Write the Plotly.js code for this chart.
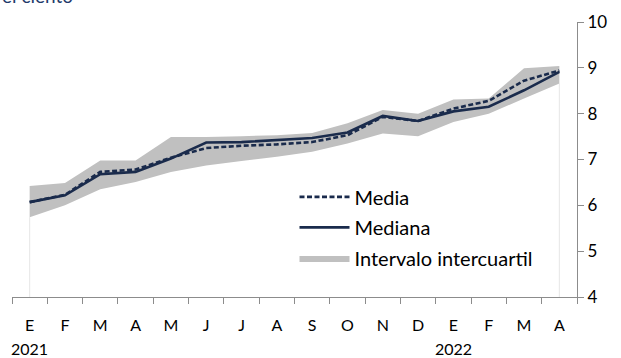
<!DOCTYPE html>
<html>
<head>
<meta charset="utf-8">
<script src="https://cdn.plot.ly/plotly-3.0.1.min.js"></script>
<style>html,body{margin:0;padding:0;background:#fff;}#chart{width:621px;height:358px;}</style>
</head>
<body>
<div id="chart"></div>
<script>
const cats = ['E-2021','F-2021','M-2021','A-2021','M2-2021','J-2021','J2-2021','A2-2021','S-2021','O-2021','N-2021','D-2021','E-2022','F-2022','M-2022','A-2022'];
const monthLabels = ['E','F','M','A','M','J','J','A','S','O','N','D','E','F','M','A'];
const media   = [6.07, 6.23, 6.73, 6.78, 7.04, 7.25, 7.30, 7.33, 7.38, 7.53, 7.93, 7.84, 8.11, 8.28, 8.72, 8.94];
const mediana = [6.07, 6.22, 6.68, 6.73, 7.02, 7.37, 7.38, 7.42, 7.47, 7.59, 7.95, 7.84, 8.05, 8.15, 8.51, 8.91];
const q1      = [5.74, 6.00, 6.35, 6.51, 6.73, 6.87, 6.97, 7.06, 7.17, 7.35, 7.57, 7.51, 7.82, 8.00, 8.33, 8.66];
const q3      = [6.42, 6.49, 6.98, 6.98, 7.49, 7.49, 7.51, 7.53, 7.58, 7.79, 8.08, 8.00, 8.31, 8.33, 8.99, 9.04];
const years = ['2021', '2022'];
const yearAt = [0, 12];
const yTicks = [4, 5, 6, 7, 8, 9, 10];

const navy = '#1a2b4c';
const font = 'Lato, "Open Sans", sans-serif';

const traces = [
  {x: cats, y: q1, type: 'scatter', mode: 'lines', line: {width: 0, color: 'rgba(0,0,0,0)'}, showlegend: false, hoverinfo: 'skip', legendgroup: 'c'},
  {x: cats, y: q3, type: 'scatter', mode: 'lines', fill: 'tonexty', fillcolor: '#c0c0c0', line: {width: 0, color: '#c0c0c0'},
   name: 'Intervalo intercuartil', legendgroup: 'c', legendrank: 3},
  {x: cats, y: mediana, type: 'scatter', mode: 'lines', line: {color: navy, width: 2.6},
   name: 'Mediana', legendgroup: 'b', legendrank: 2},
  {x: cats, y: media, type: 'scatter', mode: 'lines', line: {color: navy, width: 2.6, dash: '5px,2.5px'},
   name: 'Media', legendgroup: 'a', legendrank: 1}
];

const annotations = years.map((t, i) => ({
  x: cats[yearAt[i]], xref: 'x', y: 0, yref: 'paper', yanchor: 'top', yshift: -40,
  text: t, showarrow: false, font: {family: font, size: 16, color: '#000'}
}));
annotations.push({
  x: 0, xref: 'paper', xanchor: 'left', xshift: -12, y: 1, yref: 'paper', yanchor: 'bottom', yshift: 13,
  text: 'el ciento', showarrow: false, font: {family: font, size: 19, color: '#1f3a6b'}
});

const shapes = [0, cats.length - 1].map(i => ({
  type: 'line', xref: 'x', yref: 'y', x0: cats[i], x1: cats[i], y0: yTicks[0], y1: q1[i],
  line: {color: '#e6e6e6', width: 1}, layer: 'below'
}));

const layout = {
  width: 621, height: 358,
  margin: {l: 12, r: 44, t: 22, b: 61},
  paper_bgcolor: '#fff', plot_bgcolor: '#fff',
  font: {family: font, size: 16, color: '#000'},
  showlegend: true,
  legend: {x: 0.5, y: 0.435, xanchor: 'left', yanchor: 'top', bgcolor: 'rgba(0,0,0,0)', itemwidth: 50,
           font: {family: font, size: 20, color: '#000'}, tracegroupgap: 1.5, traceorder: 'grouped'},
  xaxis: {type: 'category', tickvals: cats, ticktext: monthLabels, tickson: 'boundaries',
          range: [-0.5, cats.length - 0.5], showgrid: false, zeroline: false,
          showline: true, linecolor: '#8c8c8c', linewidth: 1, ticklabelstandoff: 14,
          ticks: 'outside', ticklen: 6, tickcolor: '#8c8c8c', tickfont: {family: font, size: 16, color: '#000'}},
  yaxis: {side: 'right', range: [4, 10], tickvals: yTicks, showgrid: false, zeroline: false,
          showline: true, linecolor: '#8c8c8c', linewidth: 1,
          ticks: 'outside', ticklen: 6, tickcolor: '#8c8c8c', tickfont: {family: font, size: 17, color: '#000'}},
  annotations: annotations,
  shapes: shapes
};

Plotly.newPlot('chart', traces, layout, {displayModeBar: false, staticPlot: true});
</script>
</body>
</html>
